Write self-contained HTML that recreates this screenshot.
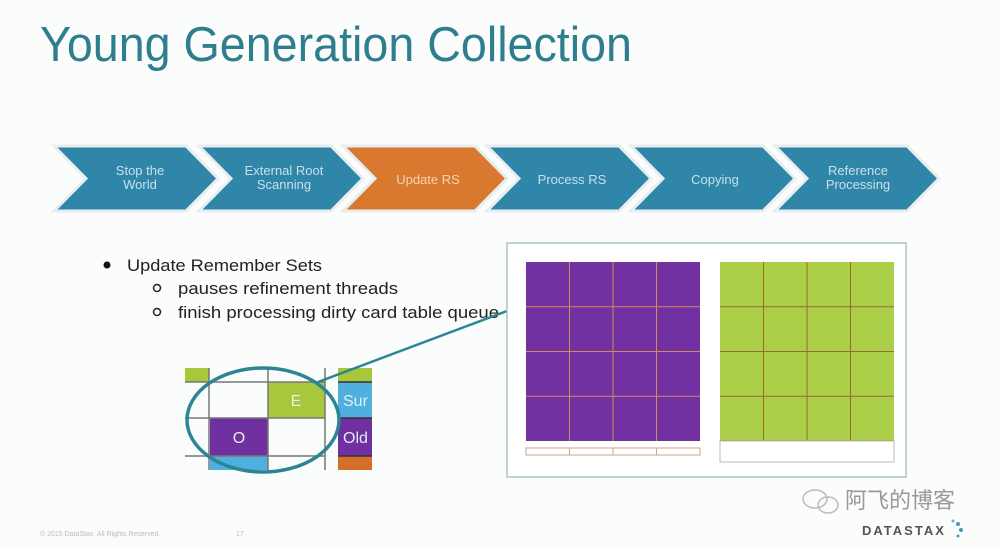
<!DOCTYPE html>
<html><head><meta charset="utf-8"><style>
html,body{margin:0;padding:0;background:#fff;}
svg{display:block;}
</style></head><body>
<svg width="1000" height="546" viewBox="0 0 1000 546" xmlns="http://www.w3.org/2000/svg" font-family="Liberation Sans, sans-serif">
<rect width="1000" height="546" fill="#fbfcfc"/>
<text x="40" y="61" font-size="49" fill="#2f7e8e" textLength="592" lengthAdjust="spacingAndGlyphs">Young Generation Collection</text>

<g stroke="#e8eef0" stroke-width="3" stroke-linejoin="miter">
<polygon points="54,146 186,146 218,178.5 186,211 54,211 86,178.5" fill="#2f86a8"/>
<polygon points="199,146 331,146 363,178.5 331,211 199,211 231,178.5" fill="#2f86a8"/>
<polygon points="343,146 475,146 507,178.5 475,211 343,211 375,178.5" fill="#d9792f"/>
<polygon points="487,146 619,146 651,178.5 619,211 487,211 519,178.5" fill="#2f86a8"/>
<polygon points="631,146 763,146 795,178.5 763,211 631,211 663,178.5" fill="#2f86a8"/>
<polygon points="775,146 907,146 939,178.5 907,211 775,211 807,178.5" fill="#2f86a8"/>
</g>
<g fill="#c8e0ea" font-size="13" text-anchor="middle">
<text x="140" y="175">Stop the</text><text x="140" y="189">World</text>
<text x="284" y="175">External Root</text><text x="284" y="189">Scanning</text>
<text x="428" y="184" fill="#f3d2b4">Update RS</text>
<text x="572" y="184">Process RS</text>
<text x="715" y="184">Copying</text>
<text x="858" y="175">Reference</text><text x="858" y="189">Processing</text>
</g>

<g fill="#222" font-size="17" font-family="Liberation Sans, DejaVu Sans, sans-serif">
<circle cx="107" cy="265" r="3.5" fill="#111"/>
<text x="127" y="271" textLength="195" lengthAdjust="spacingAndGlyphs">Update Remember Sets</text>
<circle cx="157" cy="288" r="3.5" fill="none" stroke="#222" stroke-width="1.5"/>
<text x="178" y="294" textLength="220" lengthAdjust="spacingAndGlyphs">pauses refinement threads</text>
<circle cx="157" cy="312" r="3.5" fill="none" stroke="#222" stroke-width="1.5"/>
<text x="178" y="318" textLength="321" lengthAdjust="spacingAndGlyphs">finish processing dirty card table queue</text>
</g>

<!-- small grid -->
<rect x="185" y="368" width="24" height="14" fill="#a6c83a"/>
<rect x="268" y="382" width="57" height="36" fill="#a6c83a"/>
<rect x="210" y="418" width="58" height="38" fill="#7030a0"/>
<rect x="210" y="456" width="58" height="14" fill="#4fb0de"/>
<rect x="338" y="368" width="34" height="14" fill="#a6c83a"/>
<rect x="338" y="382" width="34" height="36" fill="#4fb0de"/>
<rect x="338" y="418" width="34" height="38" fill="#7030a0"/>
<rect x="338" y="456" width="34" height="14" fill="#d46f2a"/>
<g stroke="#777" stroke-width="1.5">
<line x1="185" y1="382" x2="325" y2="382"/>
<line x1="185" y1="418" x2="325" y2="418"/>
<line x1="185" y1="456" x2="325" y2="456"/>
<line x1="209" y1="368" x2="209" y2="470"/>
<line x1="268" y1="368" x2="268" y2="470"/>
<line x1="325" y1="368" x2="325" y2="470"/>
<line x1="338" y1="382" x2="372" y2="382" stroke="#333"/>
<line x1="338" y1="418" x2="372" y2="418" stroke="#333"/>
<line x1="338" y1="456" x2="372" y2="456" stroke="#333"/>
</g>
<g fill="#e8f0e0" font-size="16" text-anchor="middle">
<text x="296" y="406">E</text>
<text x="239" y="443">O</text>
</g>
<g fill="#ddeef8" font-size="16">
<text x="343" y="406">Sur</text><text x="343" y="443">Old</text>
</g>
<rect x="372" y="360" width="20" height="115" fill="#fbfcfc"/>
<ellipse cx="263" cy="420" rx="76" ry="52" fill="none" stroke="#2c8594" stroke-width="3.5"/>
<line x1="318" y1="382" x2="507" y2="311" stroke="#2c8594" stroke-width="2.5"/>

<!-- big box -->
<rect x="507" y="243" width="399" height="234" fill="#fff" stroke="#a9c4c8" stroke-width="1.5"/>
<rect x="526" y="262" width="174" height="179" fill="#7131a2"/>
<g stroke="#d48a5a" stroke-width="1">
<line x1="569.5" y1="262" x2="569.5" y2="441"/><line x1="613" y1="262" x2="613" y2="441"/><line x1="656.5" y1="262" x2="656.5" y2="441"/>
<line x1="526" y1="306.7" x2="700" y2="306.7"/><line x1="526" y1="351.5" x2="700" y2="351.5"/><line x1="526" y1="396.2" x2="700" y2="396.2"/>
</g>
<rect x="526" y="448" width="174" height="7" fill="#fff" stroke="#c9a68c"/>
<g stroke="#c9a68c"><line x1="569.5" y1="448" x2="569.5" y2="455"/><line x1="613" y1="448" x2="613" y2="455"/><line x1="656.5" y1="448" x2="656.5" y2="455"/></g>
<rect x="720" y="262" width="174" height="179" fill="#abcf49"/>
<g stroke="#9a6a2a" stroke-width="1">
<line x1="763.5" y1="262" x2="763.5" y2="441"/><line x1="807" y1="262" x2="807" y2="441"/><line x1="850.5" y1="262" x2="850.5" y2="441"/>
<line x1="720" y1="306.7" x2="894" y2="306.7"/><line x1="720" y1="351.5" x2="894" y2="351.5"/><line x1="720" y1="396.2" x2="894" y2="396.2"/>
<line x1="720" y1="441" x2="894" y2="441" stroke="#b8702a" stroke-width="1.5"/>
</g>
<rect x="720" y="441" width="174" height="21" fill="#fff" stroke="#bbb"/>

<!-- watermark / footer -->
<text x="845" y="508" font-size="22" fill="#999" font-family="Liberation Sans, Noto Sans CJK SC, sans-serif">阿飞的博客</text>
<ellipse cx="815" cy="499" rx="12" ry="9" fill="none" stroke="#bbb" stroke-width="1.5"/>
<ellipse cx="828" cy="505" rx="10" ry="8" fill="none" stroke="#bbb" stroke-width="1.5"/>
<text x="862" y="535" font-size="13" font-weight="bold" fill="#555" letter-spacing="2">DATASTAX</text>
<circle cx="958" cy="524" r="2" fill="#4a9ab0"/><circle cx="961" cy="530" r="2" fill="#4a9ab0"/><circle cx="958" cy="536" r="1.5" fill="#4a9ab0"/><circle cx="953" cy="521" r="1.5" fill="#7ab"/>
<text x="40" y="536" font-size="7" fill="#bbb">© 2015 DataStax, All Rights Reserved.</text>
<text x="236" y="536" font-size="7" fill="#bbb">17</text>
</svg>
</body></html>
